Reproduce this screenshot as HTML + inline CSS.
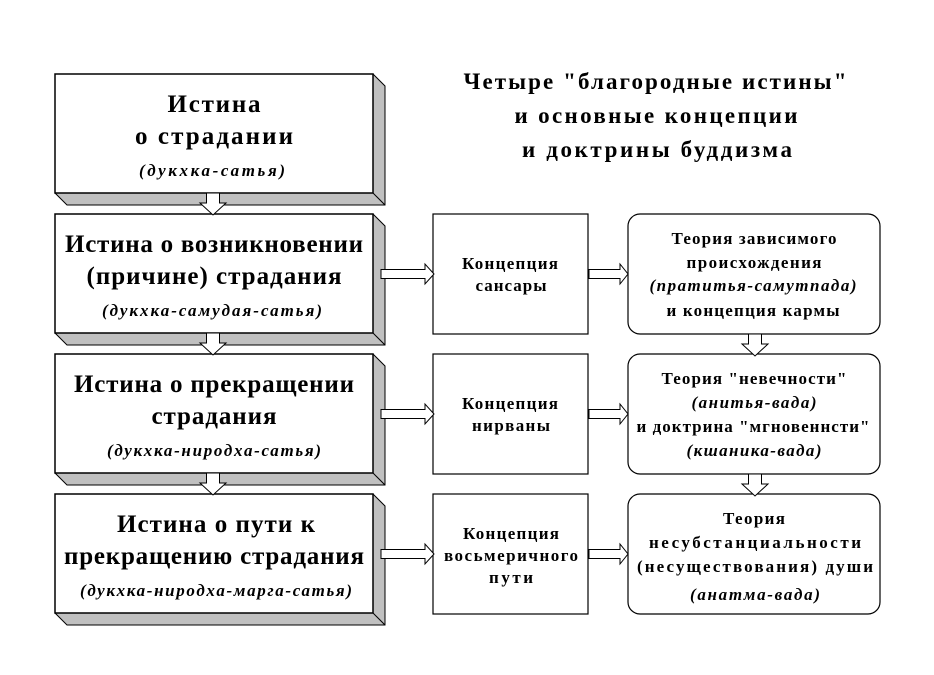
<!DOCTYPE html>
<html><head><meta charset="utf-8"><style>
body{margin:0;background:#fff;}
svg{display:block;}
text{font-family:"Liberation Serif","DejaVu Serif",serif;font-weight:bold;fill:#000;text-anchor:middle;}
.it{font-style:italic;}
</style></head><body>
<svg width="934" height="675" viewBox="0 0 934 675" xmlns="http://www.w3.org/2000/svg">
<defs>
<g id="bev">
<polygon points="55,0 373,0 385,12 385,131 67,131 55,119" fill="#c0c0c0" stroke="#000" stroke-width="1"/>
<line x1="373" y1="119" x2="385" y2="131" stroke="#000"/>
<rect x="55" y="0" width="318" height="119" fill="#fff" stroke="#000" stroke-width="1.5"/>
</g>
<polygon id="ra" points="0,-4.5 44,-4.5 44,-10 53,0 44,10 44,4.5 0,4.5" fill="#fff" stroke="#000"/>
<polygon id="ra2" points="0,-4.5 31,-4.5 31,-10 39,0 31,10 31,4.5 0,4.5" fill="#fff" stroke="#000"/>
<polygon id="da" points="-6.5,0 6.5,0 6.5,10 13,10 0,22 -13,10 -6.5,10" fill="#fff" stroke="#000"/>
</defs>

<g font-size="23">
<text x="655" y="89" textLength="383" lengthAdjust="spacing">Четыре "благородные истины"</text>
<text x="656" y="123" textLength="283" lengthAdjust="spacing">и основные концепции</text>
<text x="657" y="157" textLength="270" lengthAdjust="spacing">и доктрины буддизма</text>
</g>

<use href="#bev" y="74"/>
<use href="#bev" y="214"/>
<use href="#bev" y="354"/>
<use href="#bev" y="494"/>

<use href="#da" x="213" y="193"/>
<use href="#da" x="213" y="333"/>
<use href="#da" x="213" y="473"/>

<g font-size="25">
<text x="214" y="112" textLength="93" lengthAdjust="spacing">Истина</text>
<text x="214" y="144" textLength="158" lengthAdjust="spacing">о страдании</text>
<text x="214" y="252" textLength="298" lengthAdjust="spacing">Истина о возникновении</text>
<text x="214" y="284" textLength="255" lengthAdjust="spacing">(причине) страдания</text>
<text x="214" y="392" textLength="280" lengthAdjust="spacing">Истина о прекращении</text>
<text x="214" y="424" textLength="125" lengthAdjust="spacing">страдания</text>
<text x="216" y="532" textLength="198" lengthAdjust="spacing">Истина о пути к</text>
<text x="214" y="564" textLength="300" lengthAdjust="spacing">прекращению страдания</text>
</g>
<g font-size="17" class="it">
<text x="212" y="176" textLength="146" lengthAdjust="spacing">(дукхка-сатья)</text>
<text x="212" y="316" textLength="220" lengthAdjust="spacing">(дукхка-самудая-сатья)</text>
<text x="214" y="456" textLength="214" lengthAdjust="spacing">(дукхка-ниродха-сатья)</text>
<text x="216" y="596" textLength="272" lengthAdjust="spacing">(дукхка-ниродха-марга-сатья)</text>
</g>

<g fill="#fff" stroke="#000" stroke-width="1.2">
<rect x="433" y="214" width="155" height="120"/>
<rect x="433" y="354" width="155" height="120"/>
<rect x="433" y="494" width="155" height="120"/>
<rect x="628" y="214" width="252" height="120" rx="12"/>
<rect x="628" y="354" width="252" height="120" rx="12"/>
<rect x="628" y="494" width="252" height="120" rx="12"/>
</g>

<use href="#ra" x="381" y="274"/>
<use href="#ra" x="381" y="414"/>
<use href="#ra" x="381" y="554"/>
<use href="#ra2" x="589" y="274"/>
<use href="#ra2" x="589" y="414"/>
<use href="#ra2" x="589" y="554"/>

<use href="#da" x="755" y="334"/>
<use href="#da" x="755" y="474"/>

<g font-size="17">
<text x="510" y="269" textLength="96" lengthAdjust="spacing">Концепция</text>
<text x="511" y="291" textLength="71" lengthAdjust="spacing">сансары</text>
<text x="510" y="409" textLength="96" lengthAdjust="spacing">Концепция</text>
<text x="511" y="431" textLength="78" lengthAdjust="spacing">нирваны</text>
<text x="511" y="539" textLength="96" lengthAdjust="spacing">Концепция</text>
<text x="511" y="561" textLength="134" lengthAdjust="spacing">восьмеричного</text>
<text x="511" y="583" textLength="44" lengthAdjust="spacing">пути</text>

<text x="754" y="244" textLength="165" lengthAdjust="spacing">Теория зависимого</text>
<text x="754" y="268" textLength="135" lengthAdjust="spacing">происхождения</text>
<text x="753" y="291" textLength="207" lengthAdjust="spacing" class="it">(пратитья-самутпада)</text>
<text x="753" y="316" textLength="173" lengthAdjust="spacing">и концепция кармы</text>

<text x="754" y="384" textLength="185" lengthAdjust="spacing">Теория "невечности"</text>
<text x="754" y="408" textLength="125" lengthAdjust="spacing" class="it">(анитья-вада)</text>
<text x="753" y="432" textLength="233" lengthAdjust="spacing">и доктрина "мгновеннсти"</text>
<text x="754" y="456" textLength="135" lengthAdjust="spacing" class="it">(кшаника-вада)</text>

<text x="754" y="524" textLength="62" lengthAdjust="spacing">Теория</text>
<text x="755" y="548" textLength="212" lengthAdjust="spacing">несубстанциальности</text>
<text x="755" y="572" textLength="236" lengthAdjust="spacing">(несуществования) души</text>
<text x="755" y="600" textLength="130" lengthAdjust="spacing" class="it">(анатма-вада)</text>
</g>
</svg>
</body></html>
